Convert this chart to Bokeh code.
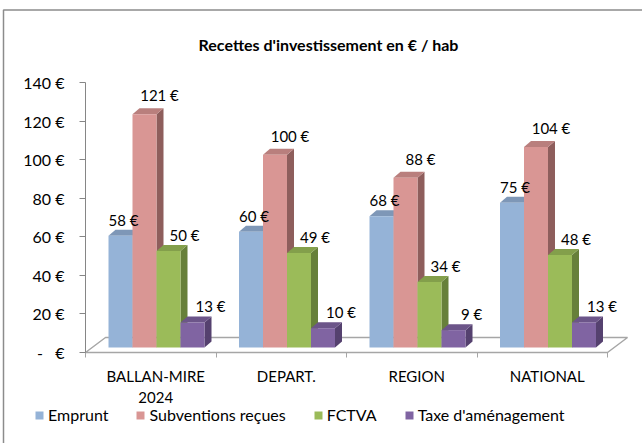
from bokeh.plotting import figure
from bokeh.models import (FixedTicker, Legend, LegendItem, Range1d,
                          CustomJSTickFormatter, Label)
from bokeh.core.properties import value
from bokeh.embed import file_html
from bokeh.resources import INLINE

# ---------------- data ----------------
categories = ["BALLAN-MIRE\n2024", "DEPART.", "REGION", "NATIONAL"]
series_names = ["Emprunt", "Subventions reçues", "FCTVA", "Taxe d'aménagement"]
emprunt = [58, 60, 68, 75]
subventions = [121, 100, 88, 104]
fctva = [50, 49, 34, 48]
taxe = [13, 10, 9, 13]
y_ticks = [0, 20, 40, 60, 80, 100, 120, 140]
title_text = "Recettes d'investissement en € / hab"

series_values = [emprunt, subventions, fctva, taxe]

# ---------------- styles ----------------
front_colors = ["#95B3D7", "#D99694", "#9BBB59", "#8064A2"]
top_colors = ["#7E97B7", "#B97F7D", "#839F4B", "#6C5589"]
side_colors = ["#6B84A4", "#8E5E5C", "#67803A", "#55416F"]
label_dx = [3, 15, 16, 18]      # px, per series
label_dy = [16, 19, 16, 16]     # px above front top, per series
FONT = "Lato"
FS = "15px"
GRAY = "#A6A6A6"

W, H = 642, 443
AX_LEFT, AX_BOTTOM, AX_TOP = 85, 352, 82   # axis origin / top (canvas px)
GROUP_PX = 130.5
Y_MAX = y_ticks[-1]
px_x = GROUP_PX
px_y = (AX_BOTTOM - AX_TOP) / Y_MAX
n = len(categories)


def X(px):
    return (px - AX_LEFT) / px_x


def Y(py):
    return (AX_BOTTOM - py) / px_y


FLOOR_DX, FLOOR_DY = 20 / px_x, 15 / px_y
BAR_W = 24 / px_x
GROUP_OFF = 23 / px_x
BASE = 5 / px_y
DX, DY = 7 / px_x, 6 / px_y
LABEL_SHIFT = 5 / px_x

p = figure(width=W, height=H,
           x_range=Range1d(X(0), X(W)), y_range=Range1d(Y(H), Y(0)),
           output_backend="svg", toolbar_location=None, min_border=0)
p.xgrid.visible = False
p.ygrid.visible = False
p.outline_line_color = None
p.background_fill_color = "white"
p.border_fill_color = "white"

# chart area border (top and left edges visible)
p.line([X(3), X(3), X(W + 5)], [Y(H + 5), Y(9.5), Y(9.5)],
       line_color="#8C8C8C", line_width=1.5)

# floor
p.patch([0, n, n + FLOOR_DX, FLOOR_DX], [0, 0, FLOOR_DY, FLOOR_DY],
        fill_color="white", line_color=GRAY, line_width=1.5)

front_renderers = []
label_specs = []
for s, vals in enumerate(series_values):
    lefts = [i + GROUP_OFF + s * BAR_W for i in range(n)]
    rights = [l + BAR_W for l in lefts]
    centers = [l + BAR_W / 2 for l in lefts]
    tops = [BASE + v for v in vals]
    side_xs = [[r, r, r + DX, r + DX] for r in rights]
    side_ys = [[BASE, t, t + DY, BASE + DY] for t in tops]
    top_xs = [[l, r, r + DX, l + DX] for l, r in zip(lefts, rights)]
    top_ys = [[t, t, t + DY, t + DY] for t in tops]
    p.patches(side_xs, side_ys, fill_color=side_colors[s], line_color=None)
    p.patches(top_xs, top_ys, fill_color=top_colors[s], line_color=None)
    r = p.vbar(x=centers, width=BAR_W, bottom=BASE, top=tops,
               fill_color=front_colors[s], line_color=None)
    front_renderers.append(r)
    label_specs.append((s, centers, tops, vals))

# value labels drawn on top of all bars
for s, centers, tops, vals in label_specs:
    p.text(x=centers, y=tops, text=[f"{v} €" for v in vals],
           x_offset=label_dx[s], y_offset=-label_dy[s],
           text_align="center", text_baseline="middle",
           text_font=value(FONT), text_font_size=FS, text_color="#000000")

# y axis (placed at x = 0 inside the frame)
yax = p.yaxis[0]
yax.fixed_location = 0
yax.bounds = (0, Y_MAX)
yax.ticker = FixedTicker(ticks=y_ticks)
yax.formatter = CustomJSTickFormatter(
    code="return tick == 0 ? '-\u00a0\u00a0\u00a0€' : tick + ' €';")
yax.axis_line_color = "#868686"
yax.major_tick_line_color = "#868686"
yax.major_tick_out = 6
yax.major_tick_in = 0
yax.minor_tick_line_color = None
yax.major_label_standoff = 15
yax.major_label_text_font = FONT
yax.major_label_text_font_size = "16px"
yax.major_label_text_color = "#000000"

# x axis (placed at y = 0 inside the frame)
xax = p.xaxis[0]
xax.fixed_location = 0
xax.bounds = (0, n)
xax.ticker = FixedTicker(ticks=[i + 0.5 + LABEL_SHIFT for i in range(n)],
                         minor_ticks=list(range(n + 1)))
xax.formatter = CustomJSTickFormatter(
    args=dict(labels=categories), code="return labels[Math.floor(tick)];")
xax.axis_line_color = None
xax.major_tick_line_color = None
xax.minor_tick_line_color = GRAY
xax.minor_tick_out = 5
xax.minor_tick_in = 0
xax.major_label_standoff = 8
xax.major_label_text_font = FONT
xax.major_label_text_font_size = FS
xax.major_label_text_color = "#000000"

# title
p.add_layout(Label(x=X(328), y=Y(44), text=title_text, text_align="center",
                   text_baseline="middle", text_font=FONT,
                   text_font_style="bold", text_font_size="16px",
                   text_color="#000000"))

legend = Legend(items=[LegendItem(label=name, renderers=[front_renderers[s]])
                       for s, name in enumerate(series_names)],
                orientation="horizontal", location=(34, H - 424),
                glyph_width=10, glyph_height=10, label_standoff=4, spacing=27,
                padding=0, margin=0, border_line_color=None,
                background_fill_alpha=0, label_height=18,
                label_text_font=FONT, label_text_font_size="16px",
                label_text_color="#000000")
p.add_layout(legend)

open("out.html", "w").write(file_html(p, INLINE))
